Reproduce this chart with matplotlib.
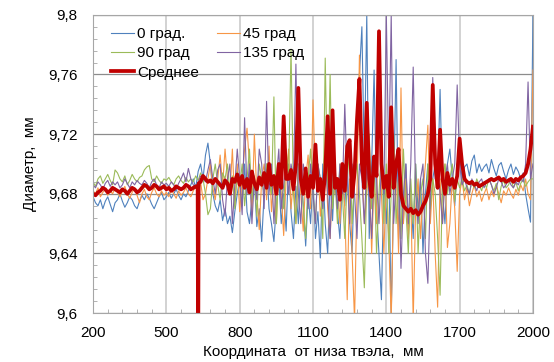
import matplotlib.pyplot as plt
from matplotlib.ticker import FuncFormatter

# coordinate along the rod, mm (10 mm step)
coord = list(range(200, 2001, 10))

# 0 град
d0 = [9.678, 9.674, 9.672, 9.676, 9.670, 9.675, 9.678, 9.673, 9.668, 9.674,
      9.676, 9.680, 9.675, 9.671, 9.674, 9.678, 9.676, 9.672, 9.670, 9.675,
      9.679, 9.676, 9.680, 9.677, 9.673, 9.670, 9.674, 9.678, 9.681, 9.676,
      9.678, 9.681, 9.677, 9.680, 9.683, 9.679, 9.676, 9.680, 9.678, 9.682,
      9.686, 9.690, 9.684, 9.695, 9.700, 9.690, 9.706, 9.714, 9.700, 9.680,
      9.672, 9.668, 9.676, 9.662, 9.670, 9.660, 9.665, 9.654, 9.668, 9.680,
      9.690, 9.672, 9.700, 9.668, 9.660, 9.676, 9.690, 9.658, 9.670, 9.648,
      9.680, 9.700, 9.670, 9.660, 9.648, 9.672, 9.690, 9.660, 9.680, 9.655,
      9.700, 9.668, 9.650, 9.685, 9.660, 9.700, 9.672, 9.645, 9.680, 9.660,
      9.690, 9.650, 9.668, 9.637, 9.700, 9.660, 9.640, 9.690, 9.662, 9.700,
      9.668, 9.650, 9.690, 9.672, 9.700, 9.660, 9.640, 9.700, 9.730, 9.760,
      9.792, 9.700, 9.800, 9.650, 9.700, 9.763, 9.670, 9.640, 9.609, 9.690,
      9.660, 9.700, 9.598, 9.680, 9.770, 9.650, 9.690, 9.662, 9.700, 9.655,
      9.680, 9.650, 9.700, 9.668, 9.690, 9.640, 9.680, 9.700, 9.670, 9.690,
      9.700, 9.690, 9.750, 9.680, 9.660, 9.700, 9.710, 9.690, 9.672, 9.700,
      9.705, 9.690, 9.698, 9.700, 9.692, 9.702, 9.706, 9.694, 9.700, 9.695,
      9.698, 9.700, 9.694, 9.703, 9.697, 9.692, 9.699, 9.701, 9.695, 9.690,
      9.696, 9.700, 9.693, 9.698, 9.695, 9.690, 9.694, 9.680, 9.670, 9.661,
      9.800]

# 45 град
d45 = [9.682, 9.680, 9.684, 9.678, 9.681, 9.683, 9.679, 9.682, 9.680, 9.684,
       9.681, 9.678, 9.682, 9.685, 9.680, 9.677, 9.681, 9.684, 9.679, 9.674,
       9.680, 9.683, 9.678, 9.676, 9.681, 9.684, 9.680, 9.678, 9.682, 9.679,
       9.681, 9.678, 9.683, 9.680, 9.677, 9.682, 9.679, 9.681, 9.684, 9.680,
       9.678, 9.682, 9.685, 9.680, 9.688, 9.676, 9.680, 9.690, 9.700, 9.684,
       9.676, 9.690, 9.706, 9.685, 9.710, 9.690, 9.680, 9.710, 9.672, 9.700,
       9.668, 9.690, 9.710, 9.724, 9.700, 9.666, 9.720, 9.680, 9.656, 9.690,
       9.700, 9.676, 9.712, 9.668, 9.690, 9.660, 9.700, 9.680, 9.652, 9.690,
       9.710, 9.670, 9.690, 9.660, 9.700, 9.680, 9.655, 9.690, 9.706, 9.670,
       9.743, 9.690, 9.700, 9.665, 9.680, 9.720, 9.670, 9.650, 9.690, 9.680,
       9.690, 9.660, 9.700, 9.670, 9.609, 9.690, 9.640, 9.595, 9.680, 9.773,
       9.700, 9.660, 9.680, 9.700, 9.640, 9.690, 9.660, 9.789, 9.680, 9.640,
       9.690, 9.650, 9.595, 9.680, 9.700, 9.640, 9.751, 9.660, 9.690, 9.650,
       9.680, 9.595, 9.670, 9.690, 9.650, 9.680, 9.700, 9.726, 9.660, 9.690,
       9.640, 9.604, 9.690, 9.660, 9.700, 9.644, 9.660, 9.690, 9.670, 9.628,
       9.680, 9.690, 9.676, 9.684, 9.672, 9.680, 9.686, 9.678, 9.682, 9.675,
       9.680, 9.684, 9.676, 9.682, 9.678, 9.686, 9.680, 9.674, 9.682, 9.679,
       9.684, 9.680, 9.677, 9.683, 9.679, 9.686, 9.682, 9.690, 9.680, 9.676,
       9.763]

# 90 град
d90 = [9.688, 9.685, 9.690, 9.692, 9.687, 9.690, 9.693, 9.689, 9.686, 9.696,
       9.694, 9.690, 9.688, 9.692, 9.686, 9.689, 9.693, 9.690, 9.688, 9.691,
       9.692, 9.696, 9.698, 9.699, 9.690, 9.688, 9.692, 9.689, 9.687, 9.690,
       9.689, 9.691, 9.688, 9.686, 9.690, 9.692, 9.689, 9.687, 9.691, 9.688,
       9.690, 9.688, 9.692, 9.689, 9.694, 9.690, 9.680, 9.666, 9.670, 9.690,
       9.700, 9.686, 9.676, 9.694, 9.690, 9.700, 9.680, 9.692, 9.670, 9.695,
       9.684, 9.700, 9.672, 9.690, 9.710, 9.676, 9.692, 9.665, 9.700, 9.690,
       9.680, 9.700, 9.690, 9.680, 9.745, 9.660, 9.700, 9.690, 9.670, 9.710,
       9.690, 9.777, 9.680, 9.660, 9.700, 9.690, 9.672, 9.650, 9.690, 9.710,
       9.680, 9.660, 9.700, 9.690, 9.650, 9.771, 9.680, 9.760, 9.670, 9.690,
       9.660, 9.700, 9.680, 9.650, 9.690, 9.710, 9.660, 9.690, 9.700, 9.680,
       9.650, 9.617, 9.690, 9.720, 9.670, 9.700, 9.640, 9.680, 9.710, 9.660,
       9.700, 9.640, 9.680, 9.720, 9.660, 9.690, 9.650, 9.710, 9.670, 9.640,
       9.690, 9.660, 9.700, 9.640, 9.680, 9.690, 9.650, 9.700, 9.670, 9.690,
       9.680, 9.650, 9.612, 9.690, 9.700, 9.680, 9.690, 9.700, 9.675, 9.690,
       9.684, 9.690, 9.682, 9.686, 9.680, 9.688, 9.684, 9.690, 9.686, 9.682,
       9.688, 9.684, 9.690, 9.686, 9.682, 9.687, 9.676, 9.685, 9.689, 9.684,
       9.686, 9.690, 9.684, 9.688, 9.682, 9.687, 9.690, 9.685, 9.688, 9.690,
       9.690]

# 135 град
d135 = [9.686, 9.684, 9.688, 9.686, 9.683, 9.687, 9.689, 9.685, 9.688, 9.686,
        9.688, 9.684, 9.686, 9.690, 9.687, 9.684, 9.688, 9.686, 9.689, 9.687,
        9.686, 9.689, 9.687, 9.684, 9.688, 9.690, 9.686, 9.684, 9.688, 9.686,
        9.687, 9.685, 9.688, 9.686, 9.683, 9.687, 9.690, 9.694, 9.688, 9.697,
        9.690, 9.686, 9.684, 9.688, 9.692, 9.690, 9.688, 9.696, 9.703, 9.690,
        9.680, 9.696, 9.700, 9.676, 9.665, 9.690, 9.700, 9.660, 9.686, 9.710,
        9.690, 9.666, 9.731, 9.680, 9.700, 9.660, 9.690, 9.676, 9.710, 9.700,
        9.670, 9.742, 9.680, 9.700, 9.660, 9.690, 9.710, 9.670, 9.686, 9.700,
        9.680, 9.700, 9.690, 9.767, 9.680, 9.660, 9.700, 9.690, 9.670, 9.700,
        9.680, 9.660, 9.700, 9.690, 9.670, 9.700, 9.680, 9.650, 9.700, 9.690,
        9.670, 9.700, 9.680, 9.740, 9.690, 9.660, 9.700, 9.680, 9.650, 9.700,
        9.690, 9.660, 9.700, 9.680, 9.650, 9.700, 9.690, 9.660, 9.700, 9.680,
        9.800, 9.700, 9.800, 9.660, 9.690, 9.700, 9.630, 9.680, 9.700, 9.660,
        9.700, 9.765, 9.680, 9.660, 9.690, 9.700, 9.640, 9.620, 9.680, 9.758,
        9.690, 9.700, 9.680, 9.660, 9.690, 9.700, 9.680, 9.690, 9.700, 9.753,
        9.700, 9.686, 9.690, 9.684, 9.680, 9.690, 9.686, 9.682, 9.688, 9.690,
        9.684, 9.688, 9.690, 9.686, 9.680, 9.684, 9.690, 9.688, 9.684, 9.686,
        9.690, 9.686, 9.684, 9.688, 9.686, 9.690, 9.688, 9.700, 9.755, 9.690,
        9.700]

# Среднее: same grid, plus the narrow drop near 630 mm
coord_avg = list(range(200, 630, 10)) + [628, 630, 632] + list(range(640, 2001, 10))
avg = [9.680, 9.679, 9.681, 9.682, 9.684, 9.683, 9.681, 9.682, 9.684, 9.683,
       9.682, 9.681, 9.683, 9.682, 9.680, 9.682, 9.684, 9.683, 9.681, 9.682,
       9.684, 9.686, 9.685, 9.683, 9.684, 9.686, 9.685, 9.683, 9.684, 9.685,
       9.683, 9.684, 9.682, 9.683, 9.685, 9.684, 9.683, 9.684, 9.686, 9.685,
       9.683, 9.684, 9.685, 9.685, 9.550, 9.687, 9.688, 9.692, 9.690, 9.688, 9.689, 9.687,
       9.690, 9.688, 9.686, 9.684, 9.689, 9.687, 9.680, 9.690, 9.688, 9.693,
       9.686, 9.692, 9.684, 9.690, 9.681, 9.695, 9.687, 9.683, 9.691, 9.686,
       9.694, 9.684, 9.700, 9.686, 9.692, 9.680, 9.700, 9.684, 9.732, 9.690,
       9.690, 9.696, 9.683, 9.700, 9.751, 9.690, 9.680, 9.697, 9.678, 9.692,
       9.684, 9.713, 9.682, 9.690, 9.676, 9.695, 9.732, 9.680, 9.736, 9.684,
       9.690, 9.676, 9.700, 9.682, 9.712, 9.716, 9.678, 9.694, 9.730, 9.757,
       9.700, 9.684, 9.741, 9.690, 9.678, 9.705, 9.692, 9.789, 9.700, 9.684,
       9.692, 9.678, 9.738, 9.684, 9.700, 9.710, 9.680, 9.672, 9.670, 9.668,
       9.670, 9.667, 9.669, 9.666, 9.668, 9.672, 9.675, 9.680, 9.690, 9.753,
       9.700, 9.684, 9.723, 9.690, 9.680, 9.694, 9.686, 9.690, 9.684, 9.692,
       9.717, 9.700, 9.690, 9.688, 9.687, 9.688, 9.686, 9.687, 9.685, 9.686,
       9.687, 9.688, 9.689, 9.690, 9.689, 9.690, 9.691, 9.689, 9.690, 9.688,
       9.689, 9.690, 9.688, 9.690, 9.689, 9.691, 9.692, 9.694, 9.700, 9.710,
       9.725]

x_ticks = list(range(200, 2001, 300))
y_ticks = [9.6, 9.64, 9.68, 9.72, 9.76, 9.8]

plt.rcParams['font.family'] = ['Liberation Sans', 'DejaVu Sans']

fig = plt.figure(figsize=(5.54, 3.62), dpi=100)
ax = fig.add_axes([0.168, 0.135, 0.794, 0.824])

l0, = ax.plot(coord, d0, color='#4F81BD', lw=0.8)
l45, = ax.plot(coord, d45, color='#F79646', lw=0.8)
l90, = ax.plot(coord, d90, color='#9BBB59', lw=0.8)
l135, = ax.plot(coord, d135, color='#8064A2', lw=0.8)
lavg, = ax.plot(coord_avg, avg, color='#C00000', lw=2.7)

ax.set_xlim(200, 2000)
ax.set_ylim(9.6, 9.8)
ax.set_xticks(x_ticks)
ax.set_xticks(range(200, 2001, 60), minor=True)
ax.set_yticks(y_ticks)
ax.set_yticks([9.6 + 0.008 * i for i in range(26)], minor=True)
ax.yaxis.set_major_formatter(FuncFormatter(lambda v, p: ('%g' % round(v, 3)).replace('.', ',')))

ax.grid(True, axis='x', which='major', color='#CFCFCF', lw=1.3)
ax.grid(True, axis='y', which='major', color='#8C8C8C', lw=0.9)
ax.tick_params(which='major', length=0, labelsize=11)
ax.tick_params(axis='x', which='major', pad=9)
ax.tick_params(axis='y', which='major', pad=11)
ax.tick_params(which='minor', direction='in', length=3, color='#A6A6A6')
for s in ax.spines.values():
    s.set_color('#A6A6A6')

ax.set_xlabel('Координата  от низа твэла,  мм', fontsize=11, labelpad=4)
ax.set_ylabel('Диаметр,  мм', fontsize=11, labelpad=8)

ax.legend([l0, l90, lavg, l45, l135],
          ['0 град.', '90 град', 'Среднее', '45 град', '135 град'],
          ncol=2, loc='upper left', frameon=False, fontsize=11,
          handlelength=1.5, handletextpad=0.2, columnspacing=1.2,
          labelspacing=0.35, borderaxespad=0.2, bbox_to_anchor=(0.02, 0.99))

fig.savefig('out.png', dpi=100)
